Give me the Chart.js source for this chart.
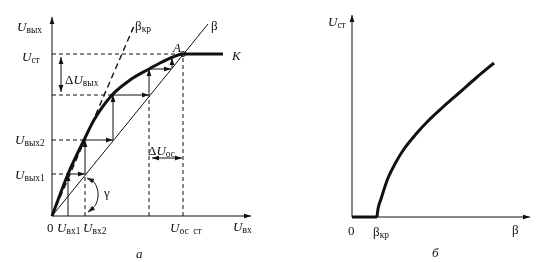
<!DOCTYPE html>
<html>
<head>
<meta charset="utf-8">
<script src="https://cdn.jsdelivr.net/npm/chart.js@4.4.0/dist/chart.umd.min.js"></script>
<style>
  html, body { margin: 0; padding: 0; background: #fff; }
  #wrap { position: relative; width: 544px; height: 262px; overflow: hidden; }
  canvas { position: absolute; top: 0; }
  #left { left: 0; }
  #right { left: 272px; }
  .lbl { position: absolute; font-family: "Liberation Serif", "DejaVu Serif", serif; font-size: 13px;
         line-height: 1; color: #111; white-space: nowrap; transform: translateY(-50%); }
  .lbl sub { font-size: 9.5px; line-height: 0; vertical-align: -0.3em; font-style: normal; }
</style>
</head>
<body>
<div id="wrap">
  <canvas id="left" width="272" height="262"></canvas>
  <canvas id="right" width="272" height="262"></canvas>
</div>
<script>
// --- рис. а: передаточная характеристика (условные единицы) ---
const uIn = [0, 1.6, 3.2, 4.2, 6.0, 7.8, 9.7, 10.8, 12.1, 13.1, 17.1];        // U_вх
const uOut = [0, 4.2, 7.6, 9.6, 12.1, 13.6, 14.7, 15.3, 15.9, 16.2, 16.2];    // U_вых по кривой K
const betaLine = [[0, 0], [15.6, 19.2]];
const betaKrLine = [[0, 0], [8.2, 19.0]];
const pointA = [13.1, 16.2];
// стрелки итерационного процесса [x1, y1, x2, y2]
const stairs = [
  [1.6, 0, 1.6, 4.2], [1.6, 4.2, 3.3, 4.2],
  [3.3, 4.2, 3.3, 7.6], [3.3, 7.6, 6.1, 7.6],
  [6.1, 7.6, 6.1, 12.1], [6.0, 12.1, 9.7, 12.1],
  [9.7, 12.1, 9.7, 14.7], [9.7, 14.7, 11.9, 14.7],
  [12.0, 14.8, 12.0, 15.8]
];
// штриховые выноски
const guides = [
  [0, 16.2, 13.1, 16.2], [13.1, 0, 13.1, 16.2],
  [0, 12.1, 6.0, 12.1], [0, 7.6, 3.2, 7.6], [0, 4.2, 1.6, 4.2],
  [3.3, 0, 3.3, 4.2], [9.7, 0, 9.7, 12.1]
];
const dUout = [0.9, 12.4, 0.9, 15.9];
const dUos = [10.0, 5.8, 13.0, 5.8];
const gammaArc = [[3.5, 3.8], [4.1, 3.5], [4.5, 2.8], [4.6, 2.0], [4.4, 1.2], [4.0, 0.7], [3.6, 0.4]];
const axisLeft = [[0, 0, 19.9, 0], [0, 0, 0, 19.9]];

// --- рис. б: U_ст от β ---
const beta = [2.5, 2.6, 2.9, 3.6, 4.4, 5.2, 6.4, 7.7, 9.1, 10.7, 12.4, 14.2];
const uSt = [0, 0.8, 1.8, 3.9, 5.5, 6.8, 8.3, 9.7, 11.0, 12.4, 13.9, 15.4];
const betaKr = 2.5;
const axisRight = [[0, 0, 17.8, 0], [0, 0, 0, 20.2]];

const INK = '#111';

// наконечник стрелки: остриё в центре картинки
function makeHead() {
  const c = document.createElement('canvas');
  c.width = 12; c.height = 16;
  const g = c.getContext('2d');
  g.fillStyle = INK;
  g.beginPath();
  g.moveTo(6, 8);
  g.lineTo(8.4, 15);
  g.lineTo(3.6, 15);
  g.closePath();
  g.fill();
  return c;
}
const head = makeHead();

// масштаб одинаковый по x и y, поэтому угол считается прямо в данных
function angle(p, q) {
  return Math.atan2(q[0] - p[0], q[1] - p[1]) * 180 / Math.PI;
}

function line(pts, extra) {
  return Object.assign({
    data: pts.map(p => ({ x: p[0], y: p[1] })),
    showLine: true, borderColor: INK, borderWidth: 1, pointRadius: 0, fill: false
  }, extra || {});
}

function arrow(s, both) {
  const p = [s[0], s[1]], q = [s[2], s[3]];
  const a = angle(p, q);
  return line([p, q], {
    pointStyle: head,
    pointRadius: [both ? 1 : 0, 1],
    pointRotation: [a + 180, a]
  });
}

function dashed(s, w) {
  return line([[s[0], s[1]], [s[2], s[3]]], { borderDash: [4, 3], borderWidth: w || 1 });
}

function options(xr, yr) {
  return {
    responsive: false, animation: false, events: [],
    layout: { padding: 0, autoPadding: false },
    plugins: { legend: { display: false }, tooltip: { enabled: false } },
    scales: {
      x: { type: 'linear', min: xr[0], max: xr[1], display: false },
      y: { type: 'linear', min: yr[0], max: yr[1], display: false }
    }
  };
}

// левый график
const leftSets = [];
guides.forEach(s => leftSets.push(dashed(s)));
leftSets.push(line(betaKrLine, { borderDash: [6, 4], borderWidth: 1.4 }));
leftSets.push(line(betaLine));
axisLeft.forEach(s => leftSets.push(arrow(s)));
stairs.forEach(s => leftSets.push(arrow(s)));
leftSets.push(arrow(dUout, true));
leftSets.push(arrow(dUos, true));
const n = gammaArc.length;
leftSets.push(line(gammaArc, {
  tension: 0.4, pointStyle: head,
  pointRadius: gammaArc.map((p, i) => (i === 0 || i === n - 1) ? 1 : 0),
  pointRotation: gammaArc.map((p, i) => i === 0 ? angle(gammaArc[1], gammaArc[0])
                                        : angle(gammaArc[n - 2], gammaArc[n - 1]))
}));
leftSets.push(line(uIn.map((x, i) => [x, uOut[i]]), { borderWidth: 3, cubicInterpolationMode: 'monotone' }));
leftSets.push(line([pointA], { pointRadius: 2.5, pointStyle: 'circle', pointBackgroundColor: '#fff', pointBorderColor: INK, pointBorderWidth: 1, showLine: false }));

new Chart(document.getElementById('left'), {
  type: 'scatter',
  data: { datasets: leftSets },
  options: options([-5.2, 22.0], [-4.6, 21.6])
});

// правый график
const rightSets = [];
axisRight.forEach(s => rightSets.push(arrow(s)));
rightSets.push(line([[0, 0], [betaKr, 0]], { borderWidth: 3 }));
rightSets.push(line(beta.map((b, i) => [b, uSt[i]]), { borderWidth: 3, cubicInterpolationMode: 'monotone' }));

new Chart(document.getElementById('right'), {
  type: 'scatter',
  data: { datasets: rightSets },
  options: options([-8.0, 19.2], [-4.5, 21.7])
});

// подписи
const labels = [
  ['<i>U</i><sub>вых</sub>', 17, 26],
  ['<i>U</i><sub>ст</sub>', 22, 56],
  ['Δ<i>U</i><sub>вых</sub>', 65, 79],
  ['β<sub>кр</sub>', 135, 25],
  ['β', 211, 25],
  ['<i>A</i>', 173, 47],
  ['<i>K</i>', 232, 55],
  ['<i>U</i><sub>вых2</sub>', 15, 139],
  ['<i>U</i><sub>вых1</sub>', 15, 174],
  ['γ', 104, 192],
  ['Δ<i>U</i><sub>ос</sub>', 148, 150],
  ['0', 47, 227],
  ['<i>U</i><sub>вх1</sub>', 57, 227],
  ['<i>U</i><sub>вх2</sub>', 83, 227],
  ['<i>U</i><sub>ос&nbsp;&nbsp;ст</sub>', 170, 227],
  ['<i>U</i><sub>вх</sub>', 233, 226],
  ['<i>а</i>', 136, 253],
  ['<i>U</i><sub>ст</sub>', 328, 21],
  ['0', 348, 230],
  ['β<sub>кр</sub>', 373, 231],
  ['β', 512, 229],
  ['<i>б</i>', 432, 252]
];
const wrap = document.getElementById('wrap');
labels.forEach(([html, x, y]) => {
  const d = document.createElement('div');
  d.className = 'lbl';
  d.innerHTML = html;
  d.style.left = x + 'px';
  d.style.top = y + 'px';
  wrap.appendChild(d);
});
</script>
</body>
</html>
